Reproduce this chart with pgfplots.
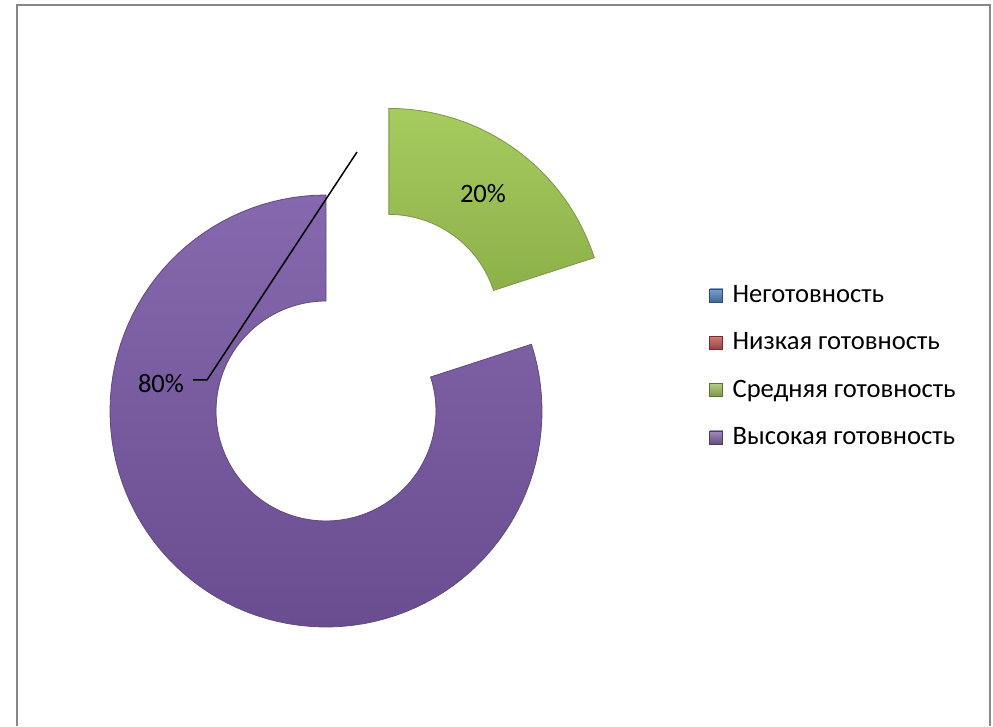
\documentclass[border=0pt]{standalone}
\usepackage{fontspec}
\setmainfont{Carlito}
\usepackage{pgfplots}
\usepackage{pgfplotstable}
\pgfplotsset{compat=1.18}

\definecolor{cBlue}{HTML}{4F81BD}
\definecolor{cRed}{HTML}{C0504D}
\definecolor{cGreen}{HTML}{9BBB59}
\definecolor{cPurple}{HTML}{8064A2}
\definecolor{gTop}{HTML}{A6CB5E}
\definecolor{gBot}{HTML}{8DB14A}
\definecolor{pTop}{HTML}{8668AE}
\definecolor{pBot}{HTML}{6A4D90}

% value = percent share, explode = offset of the slice (px)
\pgfplotstableread{
idx value explode
0   0     0
1   0     0
2   20    107
3   80    0
}\donutdata

% #1 start (cumulative %), #2 end (cumulative %), #3 explode, #4 top colour, #5 bottom colour, #6 edge
\newcommand{\donutseg}[6]{%
  \pgfmathsetmacro\aS{90-3.6*#1}%
  \pgfmathsetmacro\aE{90-3.6*#2}%
  \pgfmathsetmacro\dA{(\aE)-(\aS)}%
  \pgfmathsetmacro\aM{(\aS)+(\dA)/2}%
  \pgfmathsetmacro\cx{326+#3*cos(\aM)}%
  \pgfmathsetmacro\cy{315+#3*sin(\aM)}%
  \addplot[forget plot, top color=#4, bottom color=#5, draw=#6, line width=0.4pt,
    domain=0:2.01, samples=202, variable=\t]
    ({\cx + (\t<=1.005 ? 216 : 110)*cos(\t<=1.005 ? (\aS)+(\dA)*min(\t,1) : (\aE)-(\dA)*min(max(\t-1.01,0),1))},
     {\cy + (\t<=1.005 ? 216 : 110)*sin(\t<=1.005 ? (\aS)+(\dA)*min(\t,1) : (\aE)-(\dA)*min(max(\t-1.01,0),1))}) -- cycle;
}

\begin{document}
\begin{tikzpicture}
\begin{axis}[
  width=496.5pt, height=363pt, scale only axis,
  xmin=0, xmax=993, ymin=0, ymax=726,
  hide axis, clip=false,
  legend style={at={(axis cs:709,444)}, anchor=north west, draw=none, fill=none,
    font=\fontsize{13.3}{15}\selectfont, row sep=10.6pt, column sep=3.2pt, inner sep=0pt,
    nodes={inner sep=1.5pt}},
  legend cell align=left,
  legend image code/.code={\draw[#1] (0pt,-3.25pt) rectangle (6.5pt,3.25pt);},
]
% bounding area
\path (axis cs:0,0) rectangle (axis cs:993,726);
% chart frame
\addplot[forget plot, color=black!47, line width=1pt] coordinates {(16.5,0) (16.5,720.7) (990,720.7) (990,0)};

% read values
\pgfplotstablegetelem{0}{value}\of\donutdata \let\vA\pgfplotsretval
\pgfplotstablegetelem{1}{value}\of\donutdata \let\vB\pgfplotsretval
\pgfplotstablegetelem{2}{value}\of\donutdata \let\vC\pgfplotsretval
\pgfplotstablegetelem{3}{value}\of\donutdata \let\vD\pgfplotsretval
\pgfplotstablegetelem{2}{explode}\of\donutdata \let\eC\pgfplotsretval
\pgfplotstablegetelem{3}{explode}\of\donutdata \let\eD\pgfplotsretval
\pgfmathsetmacro\cumB{\vA+\vB}
\pgfmathsetmacro\cumC{\cumB+\vC}
\pgfmathsetmacro\cumD{\cumC+\vD}

\donutseg{\cumB}{\cumC}{\eC}{gTop}{gBot}{cGreen!80!black}
\donutseg{\cumC}{\cumD}{\eD}{pTop}{pBot}{cPurple!75!black}

% leader line of the 80% label
\addplot[forget plot, black, line width=0.75pt] coordinates {(193,346) (207,346) (357,574)};

\node[font=\fontsize{13.3}{15}\selectfont] at (axis cs:161,342) {80\%};
\node[font=\fontsize{13.3}{15}\selectfont] at (axis cs:483,532) {20\%};

\addlegendimage{top color=cBlue!75!white, bottom color=cBlue!80!black, draw=cBlue!60!black}
\addlegendentry{Неготовность}
\addlegendimage{top color=cRed!75!white, bottom color=cRed!80!black, draw=cRed!60!black}
\addlegendentry{Низкая готовность}
\addlegendimage{top color=cGreen!75!white, bottom color=cGreen!80!black, draw=cGreen!60!black}
\addlegendentry{Средняя готовность}
\addlegendimage{top color=cPurple!75!white, bottom color=cPurple!80!black, draw=cPurple!60!black}
\addlegendentry{Высокая готовность}
\end{axis}
\end{tikzpicture}
\end{document}
